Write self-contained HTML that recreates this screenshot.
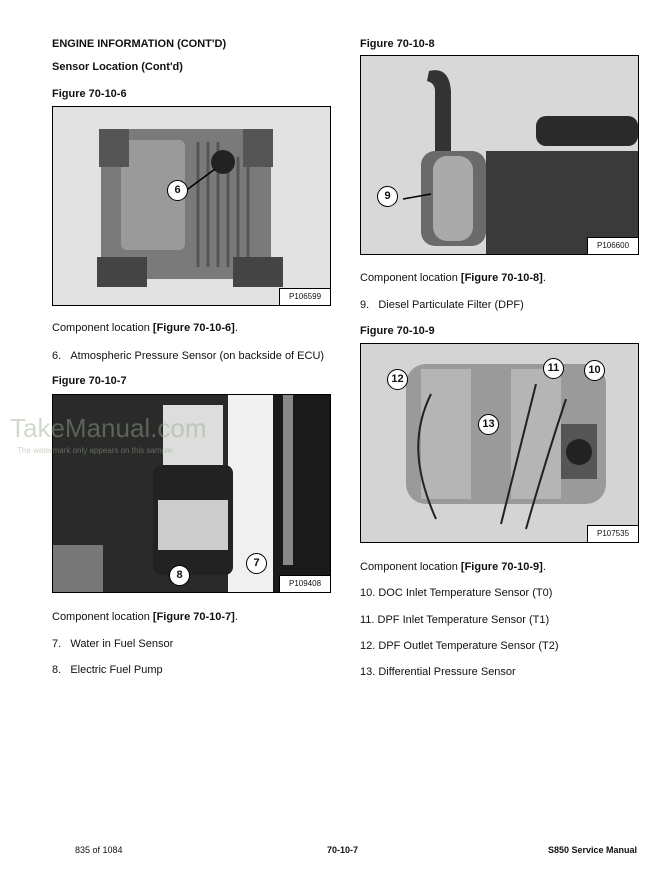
<!DOCTYPE html>
<html><head><style>
body{margin:0;background:#fff;width:660px;height:873px;position:relative;font-family:"Liberation Sans",Arial,sans-serif;color:#111;overflow:hidden}
.t{position:absolute;font-size:11px;white-space:nowrap}
.b{font-weight:bold}
.fig{position:absolute;border:1px solid #000;overflow:hidden}
.lab{position:absolute;right:0;bottom:0;width:50px;height:16px;background:#fff;border-left:1px solid #000;border-top:1px solid #000;font-size:8px;text-align:center;line-height:16px}
.c{position:absolute;width:19px;height:19px;border:1px solid #000;border-radius:50%;background:#fff;font-size:11px;font-weight:bold;text-align:center;line-height:19px}
</style></head><body>
<div class="t b" style="left:52px;top:38px">ENGINE INFORMATION (CONT'D)</div>
<div class="t b" style="left:52px;top:61px">Sensor Location (Cont'd)</div>
<div class="t b" style="left:52px;top:88px">Figure 70-10-6</div>
<div class="fig" style="left:52px;top:106px;width:277px;height:198px;background:#e2e2e2">
 <svg width="277" height="198" style="position:absolute;left:0;top:0">
  <rect x="48" y="22" width="170" height="150" rx="10" fill="#7a7a7a"/>
  <rect x="68" y="33" width="64" height="110" rx="6" fill="#9a9a9a"/>
  <g stroke="#555" stroke-width="3">
   <line x1="145" y1="35" x2="145" y2="160"/><line x1="155" y1="35" x2="155" y2="160"/><line x1="165" y1="35" x2="165" y2="160"/><line x1="175" y1="50" x2="175" y2="160"/><line x1="185" y1="50" x2="185" y2="160"/><line x1="195" y1="50" x2="195" y2="160"/>
  </g>
  <circle cx="170" cy="55" r="12" fill="#222"/>
  <rect x="44" y="150" width="50" height="30" fill="#444"/><rect x="180" y="150" width="50" height="30" fill="#444"/>
  <rect x="46" y="22" width="30" height="38" fill="#555"/><rect x="190" y="22" width="30" height="38" fill="#555"/>
  <line x1="135" y1="82" x2="162" y2="62" stroke="#000" stroke-width="1.5"/>
 </svg>
 <div class="c" style="left:114px;top:73px">6</div>
 <div class="lab">P106599</div>
</div>
<div class="t" style="left:52px;top:322px">Component location <b>[Figure 70-10-6]</b>.</div>
<div class="t" style="left:52px;top:350px">6.&nbsp;&nbsp;&nbsp;Atmospheric Pressure Sensor (on backside of ECU)</div>
<div class="t b" style="left:52px;top:375px">Figure 70-10-7</div>
<div class="fig" style="left:52px;top:394px;width:277px;height:197px;background:#2a2a2a">
 <svg width="277" height="197" style="position:absolute;left:0;top:0">
  <rect x="175" y="0" width="45" height="197" fill="#f0f0f0"/>
  <rect x="220" y="0" width="57" height="197" fill="#1a1a1a"/>
  <rect x="230" y="0" width="10" height="170" fill="#888"/>
  <rect x="110" y="10" width="60" height="60" fill="#ddd"/>
  <rect x="100" y="70" width="80" height="110" rx="8" fill="#222"/>
  <rect x="105" y="105" width="70" height="50" fill="#ccc"/>
  <rect x="0" y="150" width="50" height="47" fill="#777"/>
 </svg>
 <div class="c" style="left:193px;top:158px">7</div>
 <div class="c" style="left:116px;top:170px">8</div>
 <div class="lab">P109408</div>
</div>
<div class="t" style="left:10px;top:413px;font-size:26px;color:rgba(150,170,140,0.45)">TakeManual.com</div>
<div class="t" style="left:17px;top:446px;font-size:8px;color:rgba(150,170,140,0.5)">The watermark only appears on this sample</div>
<div class="t" style="left:52px;top:611px">Component location <b>[Figure 70-10-7]</b>.</div>
<div class="t" style="left:52px;top:638px">7.&nbsp;&nbsp;&nbsp;Water in Fuel Sensor</div>
<div class="t" style="left:52px;top:664px">8.&nbsp;&nbsp;&nbsp;Electric Fuel Pump</div>

<div class="t b" style="left:360px;top:38px">Figure 70-10-8</div>
<div class="fig" style="left:360px;top:55px;width:277px;height:198px;background:#d8d8d8">
 <svg width="277" height="198" style="position:absolute;left:0;top:0">
  <path d="M68 15 q20 -5 22 20 v60 h-16 v-60 q0 -8 -8 -10z" fill="#333"/>
  <rect x="60" y="95" width="65" height="95" rx="14" fill="#6a6a6a"/>
  <rect x="72" y="100" width="40" height="85" rx="14" fill="#aaa"/>
  <rect x="125" y="95" width="152" height="103" fill="#3a3a3a"/>
  <rect x="175" y="60" width="102" height="30" rx="10" fill="#2a2a2a"/>
  <line x1="42" y1="143" x2="70" y2="138" stroke="#000" stroke-width="1.5"/>
 </svg>
 <div class="c" style="left:16px;top:130px">9</div>
 <div class="lab">P106600</div>
</div>
<div class="t" style="left:360px;top:272px">Component location <b>[Figure 70-10-8]</b>.</div>
<div class="t" style="left:360px;top:299px">9.&nbsp;&nbsp;&nbsp;Diesel Particulate Filter (DPF)</div>
<div class="t b" style="left:360px;top:325px">Figure 70-10-9</div>
<div class="fig" style="left:360px;top:343px;width:277px;height:198px;background:#d4d4d4">
 <svg width="277" height="198" style="position:absolute;left:0;top:0">
  <rect x="45" y="20" width="200" height="140" rx="20" fill="#9a9a9a"/>
  <rect x="60" y="25" width="50" height="130" fill="#b5b5b5"/>
  <rect x="150" y="25" width="50" height="130" fill="#b5b5b5"/>
  <rect x="200" y="80" width="36" height="55" fill="#555"/>
  <circle cx="218" cy="108" r="13" fill="#222"/>
  <path d="M70 50 C50 90 55 130 75 175 M175 40 C160 100 150 140 140 180 M205 55 C190 100 175 150 165 185" stroke="#222" stroke-width="2" fill="none"/>
 </svg>
 <div class="c" style="left:26px;top:25px">12</div>
 <div class="c" style="left:182px;top:14px">11</div>
 <div class="c" style="left:223px;top:16px">10</div>
 <div class="c" style="left:117px;top:70px">13</div>
 <div class="lab">P107535</div>
</div>
<div class="t" style="left:360px;top:561px">Component location <b>[Figure 70-10-9]</b>.</div>
<div class="t" style="left:360px;top:587px">10. DOC Inlet Temperature Sensor (T0)</div>
<div class="t" style="left:360px;top:614px">11. DPF Inlet Temperature Sensor (T1)</div>
<div class="t" style="left:360px;top:640px">12. DPF Outlet Temperature Sensor (T2)</div>
<div class="t" style="left:360px;top:666px">13. Differential Pressure Sensor</div>

<div class="t" style="left:75px;top:845px;font-size:9px">835 of 1084</div>
<div class="t b" style="left:327px;top:845px;font-size:9px">70-10-7</div>
<div class="t b" style="right:23px;top:845px;font-size:9px">S850 Service Manual</div>
</body></html>
